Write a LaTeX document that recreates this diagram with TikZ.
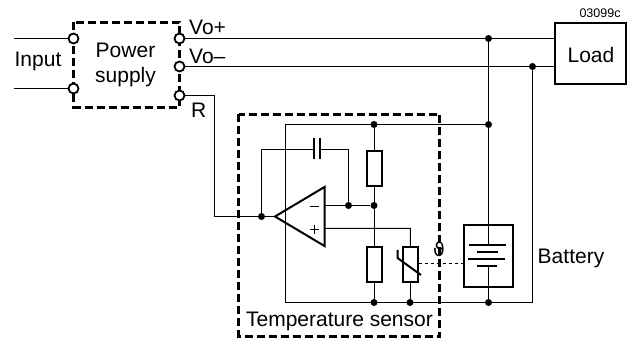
\documentclass[tikz,border=0pt]{standalone}
\usepackage{fontspec}
\setmainfont{Liberation Sans}
\newfontfamily\symfont{DejaVu Sans}
\tikzset{
  wire/.style={line width=1pt,draw=black},
  box/.style={draw=black,line width=2pt,fill=white,inner sep=0pt,rectangle},
  dashbox/.style={draw=black,line width=2.6pt,dash pattern=on 8pt off 4pt},
  term/.style={circle,draw=black,line width=1.8pt,fill=white,minimum size=10pt,inner sep=0pt},
  dotj/.style={circle,fill=black,minimum size=7pt,inner sep=0pt},
  lab/.style={inner sep=0pt,font=\fontsize{21}{24}\selectfont,align=center},
  plate/.style={line width=2pt},
}
\begin{document}
\begin{tikzpicture}[x=1pt,y=-1pt]
\useasboundingbox (0,0) rectangle (635,339);
% dashed boxes
\draw[dashbox] (73.5,22.5) rectangle (179.5,107.5);
\draw[dashbox] (238.5,114.5) rectangle (439.5,336.5);
% free ends and corners
\coordinate (in1) at (14,38.5);
\coordinate (in2) at (14,88.5);
\coordinate (rc1) at (214.5,95.5);
\coordinate (rc2) at (214.5,216.5);
\coordinate (tl) at (285.5,124.5);
\coordinate (bl) at (285.5,302.5);
\coordinate (br) at (532.5,302.5);
\coordinate (cl) at (261.5,149.5);
\coordinate (cr) at (348.5,149.5);
\coordinate (c1) at (313.5,149.5);
\coordinate (c2) at (319.5,149.5);
\coordinate (pc) at (410.5,228.5);
\coordinate (opm) at (324.5,205.5);
\coordinate (opp) at (324.5,228.5);
\coordinate (tip) at (275,216.5);
\coordinate (plate1) at (488.5,245);
\coordinate (plate4) at (488.5,266);
% nodes
\node[term] (ti1) at (73.5,38.5) {};
\node[term] (ti2) at (73.5,88.5) {};
\node[term] (to1) at (179.5,38.5) {};
\node[term] (to2) at (179.5,66.5) {};
\node[term] (to3) at (179.5,95.5) {};
\node[box,minimum width=71pt,minimum height=61pt] (load) at (590.5,53.5) {};
\node[box,minimum width=15pt,minimum height=35pt] (r1) at (374,168.5) {};
\node[box,minimum width=15pt,minimum height=35pt] (r2) at (374,264.5) {};
\node[box,minimum width=15pt,minimum height=35pt] (th) at (410,264.5) {};
\node[box,minimum width=49pt,minimum height=62pt] (bat) at (488,256) {};
\node[dotj] (jtop1) at (488.5,38.5) {};
\node[dotj] (jtop2) at (532.5,66.5) {};
\node[dotj] (jr) at (261.5,216.5) {};
\node[dotj] (ja) at (374,124.5) {};
\node[dotj] (jb) at (488.5,124.5) {};
\node[dotj] (jc) at (348.5,205.5) {};
\node[dotj] (jd) at (374,205.5) {};
\node[dotj] (je) at (374,302.5) {};
\node[dotj] (jf) at (410,302.5) {};
\node[dotj] (jg) at (488.5,302.5) {};
% wires
\draw[wire] (in1) -- (ti1);
\draw[wire] (in2) -- (ti2);
\draw[wire] (to1) -- (load.west |- to1);
\draw[wire] (to2) -- (load.west |- to2);
\draw[wire] (to3) -- (rc1) -- (rc2) -- (tip);
\draw[wire] (jtop1) -- (plate1);
\draw[wire] (plate4) -- (jg);
\draw[wire] (jtop2) -- (br) -- (bl) -- (tl) -- (jb);
\draw[wire] (ja) -- (r1);
\draw[wire] (r1) -- (r2);
\draw[wire] (r2) -- (je);
\draw[wire] (th) -- (jf);
\draw[wire] (jr) -- (cl) -- (c1);
\draw[wire] (c2) -- (cr) -- (jc);
\draw[wire] (opm) -- (jd);
\draw[wire] (opp) -- (pc) -- (th);
% capacitor
\draw[plate] (313.5,138) -- (313.5,159);
\draw[plate] (319.5,138) -- (319.5,159);
% op amp
\draw[line width=2pt,line join=miter] (tip) -- (324.5,187) -- (324.5,246) -- cycle;
\draw[line width=1.7pt] (309.5,206.5) -- (319,206.5);
\draw[line width=1.7pt] (310,229.5) -- (319,229.5) (314.5,225) -- (314.5,234);
% thermistor slash
\draw[line width=2pt] (397.5,250) -- (397.5,258) -- (421,275);
\draw[line width=0.9pt,dash pattern=on 3pt off 3pt] (th.east |- 0,263.5) -- (bat.west |- 0,263.5);
% battery plates
\draw[plate] (469,245.5) -- (506,245.5);
\draw[plate] (477,252.5) -- (498,252.5);
\draw[plate] (468,259.5) -- (505,259.5);
\draw[plate] (477,266.5) -- (497,266.5);
% labels
\node[lab] (linput) at (38,61) {Input};
\node[lab] (lps) at (125.5,65) {Power\\[1pt]supply};
\node[lab,anchor=west] (lv1) at (189,27) {Vo+};
\node[lab,anchor=west] (lv2) at (189,56) {Vo–};
\node[lab,anchor=west] (lr) at (191,110) {R};
\node[lab] (lload) at (591,55) {Load};
\node[lab,font=\fontsize{12.5}{14}\selectfont] (lcode) at (600,13) {03099c};
\node[lab] (lts) at (339.5,321) {Temperature sensor};
\node[lab] (lbat) at (571,258) {Battery};
\node[inner sep=0pt,font=\fontsize{19}{22}\selectfont\symfont] (ltheta) at (439,249) {ϑ};
\end{tikzpicture}
\end{document}
